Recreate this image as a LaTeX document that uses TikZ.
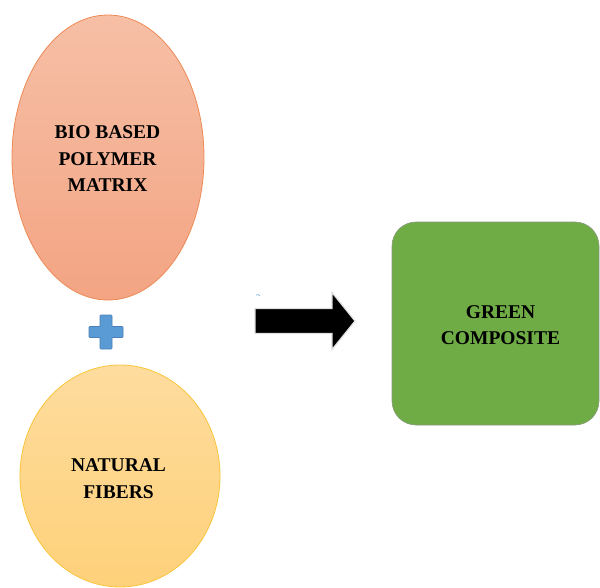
\documentclass[tikz,border=0pt]{standalone}
\usepackage{fontspec}
\setmainfont{Liberation Serif}
\newfontfamily\lblfont{Liberation Serif}
\usetikzlibrary{shapes.geometric,shapes.arrows,calc}
\definecolor{salmonTop}{HTML}{F6BFA6}
\definecolor{salmonBot}{HTML}{F3A483}
\definecolor{salmonLine}{HTML}{EE8A55}
\definecolor{yelTop}{HTML}{FEDC9E}
\definecolor{yelBot}{HTML}{FED17A}
\definecolor{yelLine}{HTML}{FBC53A}
\definecolor{grnFill}{HTML}{6FAC46}
\definecolor{grnLine}{HTML}{8A9A80}
\definecolor{plusFill}{HTML}{5B9BD5}
\definecolor{plusLine}{HTML}{4A80B5}
\tikzset{
  lbl/.style={font=\lblfont\bfseries\fontsize{19.5}{26.5}\selectfont, align=center, text=black},
  oval/.style={ellipse, inner sep=0pt, line width=0.8pt},
}
\begin{document}
\begin{tikzpicture}[x=1pt,y=-1pt]
\useasboundingbox (0,0) rectangle (600,587);
\fill[white] (0,0) rectangle (600,587);
\node[oval, draw=salmonLine, top color=salmonTop, bottom color=salmonBot,
      minimum width=192pt, minimum height=285pt] (bio) at (108,157.5) {};
\node[lbl] (biotxt) at (107.5,159) {BIO BASED\\POLYMER\\MATRIX};
\node[oval, draw=yelLine, top color=yelTop, bottom color=yelBot,
      minimum width=200pt, minimum height=222pt] (fib) at (120,476) {};
\node[lbl] (fibtxt) at (118.5,478.5) {NATURAL\\FIBERS};
\coordinate (plus) at (106,332);
\draw[plusLine, fill=plusFill, line width=0.6pt, rounded corners=0.8pt]
  ($(plus)+(-6,-17)$) -- ($(plus)+(6,-17)$) -- ($(plus)+(6,-5.5)$) -- ($(plus)+(17,-5.5)$)
  -- ($(plus)+(17,5.5)$) -- ($(plus)+(6,5.5)$) -- ($(plus)+(6,17)$) -- ($(plus)+(-6,17)$)
  -- ($(plus)+(-6,5.5)$) -- ($(plus)+(-17,5.5)$) -- ($(plus)+(-17,-5.5)$) -- ($(plus)+(-6,-5.5)$) -- cycle;
\coordinate (arr) at (255,321);
\draw[black!12, fill=black, line width=1.2pt, line join=miter]
  ($(arr)+(0,-12.5)$) -- ($(arr)+(77,-12.5)$) -- ($(arr)+(77,-28.5)$) -- ($(arr)+(100,0)$)
  -- ($(arr)+(77,28.5)$) -- ($(arr)+(77,12.5)$) -- ($(arr)+(0,12.5)$) -- cycle;
\draw[plusFill!70, line width=0.8pt] (256,295) arc[start angle=120, end angle=40, radius=3pt];
\node[draw=grnLine, fill=grnFill, rounded corners=24pt, line width=0.6pt,
      minimum width=207pt, minimum height=203pt, inner sep=0pt] (green) at (495.5,323.5) {};
\node[lbl] (grntxt) at (500.5,325) {GREEN\\COMPOSITE};
\end{tikzpicture}
\end{document}
